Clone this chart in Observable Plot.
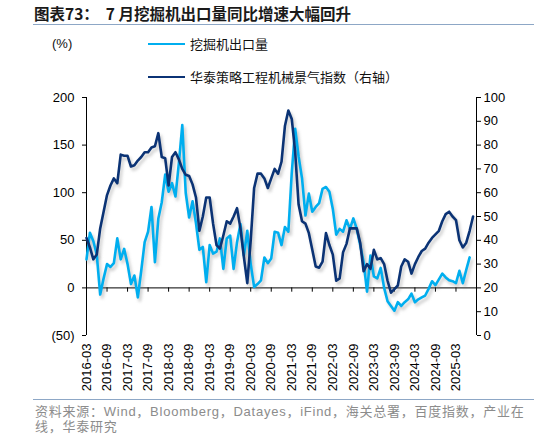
<!DOCTYPE html>
<html>
<head>
<meta charset="utf-8">
<script src="https://cdn.jsdelivr.net/npm/d3@7"></script>
<script src="https://cdn.jsdelivr.net/npm/@observablehq/plot@0.6"></script>
<style>
  body { margin: 0; background: #fff; }
  #wrap { position: relative; width: 534px; height: 435px; overflow: hidden; background: #fff; font-family: "Liberation Sans", Arial, sans-serif; }
  .abs { position: absolute; white-space: pre; }
  .cjk { font-family: "Noto Sans CJK SC", "Liberation Sans", sans-serif; }
  .foot { font-family: "Liberation Sans", "Noto Sans CJK SC", sans-serif; letter-spacing: 0.75px; }
</style>
</head>
<body>
<div id="wrap">
  <div class="abs cjk" style="left:34px;top:3px;font-size:15.5px;font-weight:bold;color:#1a1a1a;line-height:20px;">图表73：  7 月挖掘机出口量同比增速大幅回升</div>
  <div class="abs" style="left:33px;top:24px;width:501px;height:0;border-top:1.6px solid #8da7c6;"></div>
  <div class="abs" style="left:52px;top:36px;font-size:13px;line-height:16px;color:#111;">(%)</div>
  <div class="abs" style="left:148px;top:36px;height:16px;display:flex;align-items:center;">
    <span style="display:inline-block;width:37px;height:0;border-top:2.6px solid #00aeef;"></span>
    <span class="cjk" style="margin-left:5px;font-size:13px;line-height:16px;color:#111;">挖掘机出口量</span>
  </div>
  <div class="abs" style="left:148px;top:69px;height:16px;display:flex;align-items:center;">
    <span style="display:inline-block;width:37px;height:0;border-top:2.6px solid #0b3375;"></span>
    <span class="cjk" style="margin-left:5px;font-size:13px;line-height:16px;color:#111;">华泰策略工程机械景气指数（右轴）</span>
  </div>
  <div id="chart" class="abs" style="left:0;top:0;"></div>
  <div class="abs" style="left:33px;top:399px;width:501px;height:0;border-top:1.6px solid #8da7c6;"></div>
  <div class="abs foot" style="left:35px;top:403px;font-size:13px;line-height:17px;color:#8c8c8c;">资料来源：Wind，Bloomberg，Datayes，iFind，海关总署，百度指数，产业在</div>
  <div class="abs foot" style="left:35px;top:419px;font-size:13px;line-height:16px;color:#8c8c8c;">线，华泰研究</div>
</div>
<script>
// Month index 0 = 2016-03; axis spans 2016-03 .. 2025-09
const startMonth = "2016-03";
const axisEndIndex = 114;
const xTickLabels = ["2016-03","2016-09","2017-03","2017-09","2018-03","2018-09","2019-03","2019-09","2020-03","2020-09","2021-03","2021-09","2022-03","2022-09","2023-03","2023-09","2024-03","2024-09","2025-03"];
const leftTicks = [-50, 0, 50, 100, 150, 200];
const rightTicks = [0, 10, 20, 30, 40, 50, 60, 70, 80, 90, 100];

// 挖掘机出口量 同比 (%), monthly from 2016-03 to 2025-07
const exportYoY = [
  30, 58, 49, 35, -7, 10, 25, 22, 26, 52,
  30, 41, 25, 4, 13, -10, 18, 48, 59, 85,
  27, 73, 90, 119, 101, 110, 96, 131, 171, 100,
  74, 91, 68, 40, 43, 6, 45, 36, 38, 52,
  20, 52, 55, 20, 48, 67, 34, 60, 25, 1,
  4, 8, 32, 26, 31, 59, 58, 45, 64, 59,
  121, 167, 138, 115, 76, 99, 80, 85, 89, 104,
  106, 101, 83, 56, 62, 59, 71, 62, 73, 62,
  45, 27, -4, 34, 12, 10, 21, 0, -14, -19,
  -24, -15, -19, -15, -12, -6, -15, -12, -10, -8,
  -1, 7, 3, 9, 15, 11, 8, 7, 5, 18,
  5, 19, 32
];

// 华泰策略工程机械景气指数 (右轴), monthly from 2016-03 to 2025-08
const boomIndex = [
  41, 37, 32, 34, 45, 52, 59, 63, 66, 64,
  76, 75.5, 75.5, 71, 71.5, 73.5, 75, 77, 77, 79,
  79.5, 85, 75, 74.5, 63, 75, 77, 74, 70, 67.5,
  67, 63.5, 58, 44, 50, 58, 58, 47, 38, 36.5,
  42, 48, 47, 50, 53.5, 45, 33, 22, 40, 62,
  68, 68, 66, 62, 66, 70, 68, 73, 88, 94.5,
  91, 77, 55, 48, 47, 43, 36, 29, 28.5, 31,
  43, 38, 34, 23, 24, 35, 38.5, 45, 45, 45,
  39, 27, 30, 28, 36, 32, 32.5, 30, 23, 18,
  19.5, 21, 29, 32, 31, 26, 30, 33, 35.5, 36.5,
  39, 41, 42.5, 44, 48, 51, 52, 50, 48.5, 40,
  37, 39, 44, 50
];

// right axis 0..100 maps onto left axis -50..200
const toLeft = r => r * 2.5 - 50;
const toRight = l => (l + 50) / 2.5;

const exportData = exportYoY.map((v, i) => ({i, v}));
const boomData = boomIndex.map((v, i) => ({i, v: toLeft(v)}));
const tickIdx = xTickLabels.map((_, k) => k * 6);
const innerTicks = tickIdx.slice(1);

const lightColor = "#00aeef";
const darkColor = "#0b3375";

const chart = Plot.plot({
  width: 534,
  height: 400,
  marginLeft: 86,
  marginRight: 58,
  marginTop: 97,
  marginBottom: 65,
  style: {fontFamily: "'Liberation Sans', Arial, sans-serif", fontSize: "13px", color: "#000", background: "transparent"},
  x: {type: "linear", domain: [0, axisEndIndex], axis: null},
  y: {domain: [-50, 200], axis: null},
  marks: [
    Plot.axisY({anchor: "left", label: null, ticks: leftTicks, tickSize: 4, tickPadding: 8, tickFormat: v => v < 0 ? `(${-v})` : `${v}`}),
    Plot.axisY({anchor: "right", label: null, ticks: rightTicks.map(toLeft), tickSize: 4, tickPadding: 3, tickFormat: v => `${toRight(v)}`}),
    Plot.axisX({anchor: "bottom", label: null, ticks: tickIdx, tickSize: 0, tickPadding: 8, tickRotate: -90, tickFormat: v => xTickLabels[Math.round(v / 6)]}),
    Plot.ruleX([0, axisEndIndex], {stroke: "#000", strokeWidth: 1}),
    Plot.ruleY([0], {stroke: "#000", strokeWidth: 1}),
    Plot.ruleX(innerTicks, {y1: 0, y2: -4.5, stroke: "#000", strokeWidth: 1}),
    // soft shadows
    Plot.line(exportData, {x: "i", y: "v", stroke: "#7a7a7a", strokeWidth: 3, strokeOpacity: 0.35, dx: 2, dy: 3}),
    Plot.line(boomData, {x: "i", y: "v", stroke: "#7a7a7a", strokeWidth: 3, strokeOpacity: 0.35, dx: 2, dy: 3}),
    Plot.line(exportData, {x: "i", y: "v", stroke: lightColor, strokeWidth: 2.6, strokeLinejoin: "round"}),
    Plot.line(boomData, {x: "i", y: "v", stroke: darkColor, strokeWidth: 2.6, strokeLinejoin: "round"})
  ]
});
document.getElementById("chart").appendChild(chart);
const lineGroups = chart.querySelectorAll('g[aria-label="line"]');
if (lineGroups.length >= 4) {
  lineGroups[0].style.filter = "blur(1.5px)";
  lineGroups[1].style.filter = "blur(1.5px)";
}
</script>
</body>
</html>
